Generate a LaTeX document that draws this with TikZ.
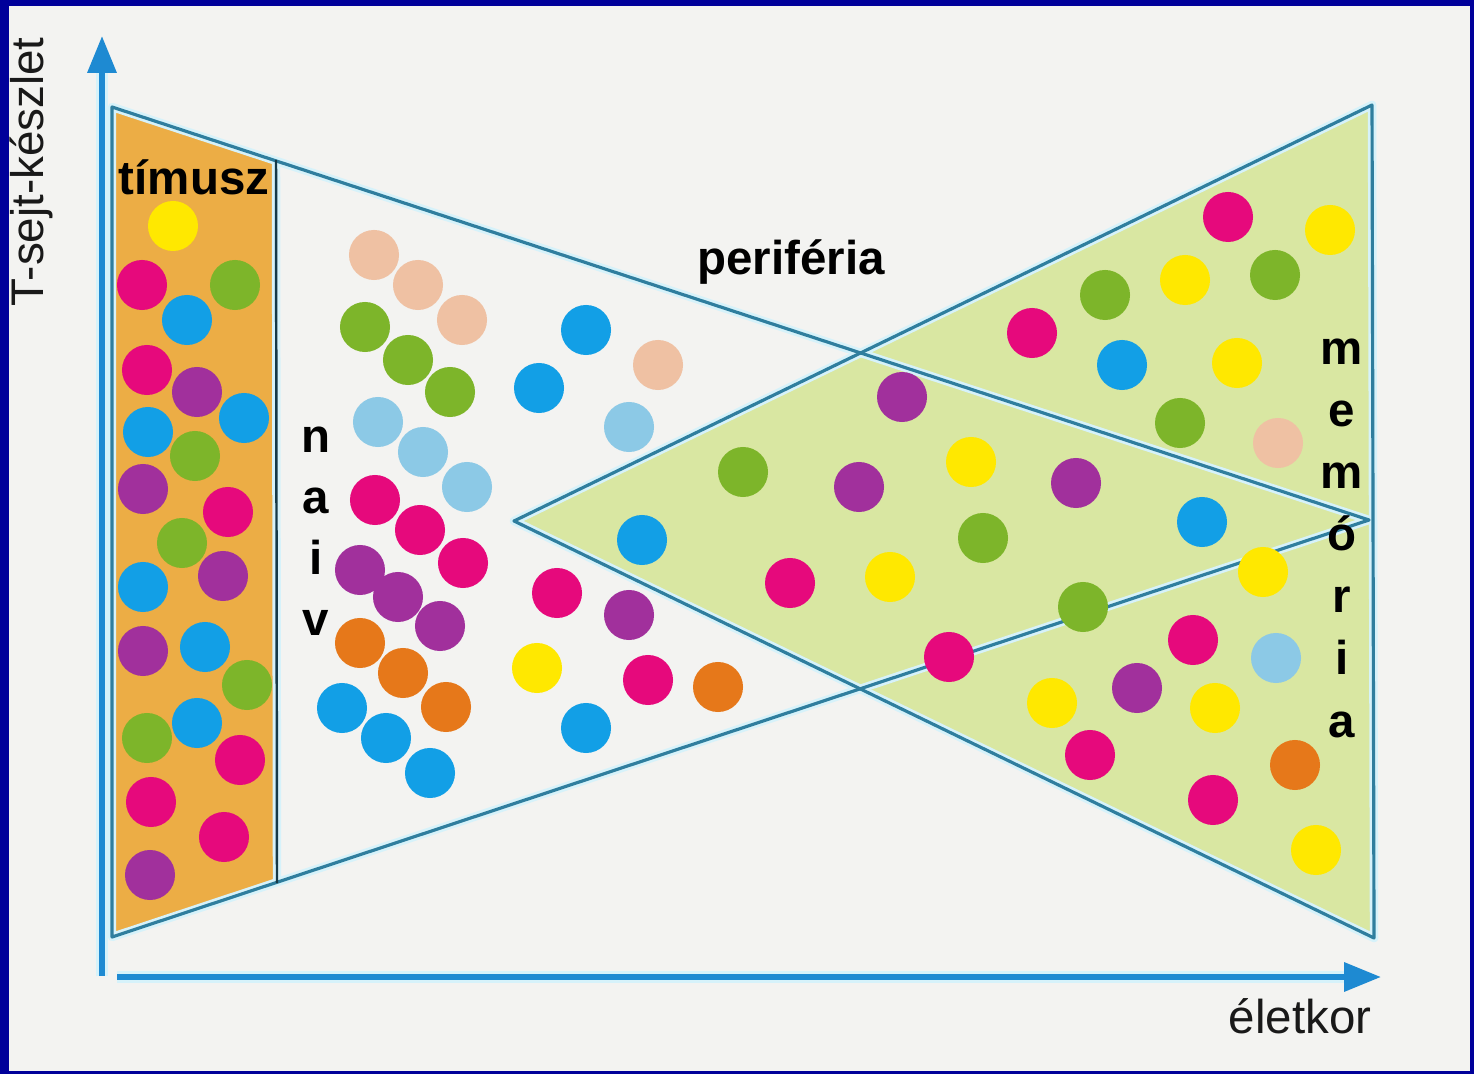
\documentclass[tikz,border=0pt]{standalone}
\usepackage{fontspec}
\setmainfont{Liberation Sans}
\usetikzlibrary{arrows.meta}
\definecolor{frameblue}{HTML}{00009A}
\definecolor{paper}{HTML}{F3F3F1}
\definecolor{axisblue}{HTML}{1E8AD2}
\definecolor{halo}{HTML}{D6F2FA}
\definecolor{linec}{HTML}{2F7E9E}
\definecolor{thy}{HTML}{ECAD45}
\definecolor{mem}{HTML}{D9E7A2}
\definecolor{cyel}{HTML}{FFE800}
\definecolor{cmag}{HTML}{E6097C}
\definecolor{cgrn}{HTML}{7DB52A}
\definecolor{cblu}{HTML}{129FE6}
\definecolor{cpur}{HTML}{A1309C}
\definecolor{cpea}{HTML}{EFC1A3}
\definecolor{clbl}{HTML}{8CC9E6}
\definecolor{cora}{HTML}{E6781A}
\tikzset{
  haloline/.style={draw=halo, line width=2.4pt, line join=round},
  thinline/.style={draw=linec, line width=0.9pt, line join=round},
  thyedge/.style={draw=black!55!linec, line width=0.7pt},
  axisline/.style={draw=axisblue, line width=1.7pt, -{Triangle[length=10.5pt,width=8pt]}},
  axishalo/.style={draw=halo, line width=3.2pt},
  lbl/.style={inner sep=0pt, anchor=base, font=\fontsize{13.5pt}{15pt}\selectfont\bfseries, text=black},
  axlbl/.style={inner sep=0pt, anchor=base, font=\fontsize{13pt}{15pt}\selectfont, text=black!90},
  dotr/.style={radius=2.5mm}
}
\begin{document}
\begin{tikzpicture}[x=0.01cm,y=-0.01cm]
\useasboundingbox (0,0) rectangle (1474,1074);
% frame and paper
\fill[frameblue] (0,0) rectangle (1474,1074);
\fill[paper] (9,6) rectangle (1470,1071);
% regions
\fill[thy] (112,107) -- (276,160) -- (277,883) -- (112,937) -- cycle;
\fill[mem] (514,521) -- (1372,105) -- (1374,938) -- cycle;
% halos
\path[haloline] (112,107) -- (1369,520) -- (112,937) -- cycle;
\path[haloline] (514,521) -- (1372,105) -- (1374,938) -- cycle;
\path[haloline] (276,160) -- (277,883);
% lines
\path[thinline] (112,107) -- (1369,520) -- (112,937) -- cycle;
\path[thinline] (514,521) -- (1372,105) -- (1374,938) -- cycle;
\path[thyedge] (276,160) -- (277,883);
% axes
\coordinate (o1) at (102,976);
\coordinate (ytip) at (102,36);
\coordinate (o2) at (117,977);
\coordinate (xtip) at (1381,977);
\draw[axishalo] (o1) -- (102,70);
\draw[axishalo] (o2) -- (1345,977);
\draw[axisline] (o1) -- (ytip);
\draw[axisline] (o2) -- (xtip);
% dots
\foreach \p in {(173,226),(1330,230),(1185,280),(1237,363),(971,462),(890,577),(1263,572),(1052,703),(1215,708),(1316,850),(537,668)}
  \fill[cyel] \p circle[dotr];
\foreach \p in {(142,285),(147,370),(228,512),(240,760),(151,802),(224,837),
  (375,500),(420,530),(463,563),(557,593),(648,680),
  (1228,217),(1032,333),(790,583),(949,657),(1193,640),(1090,755),(1213,800)}
  \fill[cmag] \p circle[dotr];
\foreach \p in {(235,285),(195,456),(182,543),(247,685),(147,738),
  (365,327),(408,360),(450,392),
  (1105,295),(1275,275),(1180,423),(743,472),(983,538),(1083,607)}
  \fill[cgrn] \p circle[dotr];
\foreach \p in {(187,320),(244,418),(148,432),(143,587),(205,647),(197,723),
  (342,708),(386,738),(430,773),(586,330),(539,388),(642,540),(586,728),
  (1122,365),(1202,522)}
  \fill[cblu] \p circle[dotr];
\foreach \p in {(197,392),(143,489),(223,576),(143,651),(150,875),
  (360,570),(398,597),(440,626),(629,615),
  (902,397),(859,487),(1076,483),(1137,688)}
  \fill[cpur] \p circle[dotr];
\foreach \p in {(374,255),(418,285),(462,320),(658,365),(1278,443)}
  \fill[cpea] \p circle[dotr];
\foreach \p in {(378,422),(423,452),(467,487),(629,427),(1276,658)}
  \fill[clbl] \p circle[dotr];
\foreach \p in {(360,643),(403,673),(446,707),(718,687),(1295,765)}
  \fill[cora] \p circle[dotr];
% labels
\node[axlbl, rotate=90] (ylabel) at (43,172) {T-sejt-készlet};
\node[axlbl, font=\fontsize{13.5pt}{15pt}\selectfont] (xlabel) at (1300,1033) {életkor};
\node[lbl] (tim) at (194,195) {tímusz};
\node[lbl] (per) at (791,275) {periféria};
\node[lbl] (n1) at (316,453) {n};
\node[lbl] (n2) at (316,514) {a};
\node[lbl] (n3) at (316,575) {i};
\node[lbl] (n4) at (316,636) {v};
\node[lbl] (m1) at (1342,365) {m};
\node[lbl] (m2) at (1342,427) {e};
\node[lbl] (m3) at (1342,489) {m};
\node[lbl] (m4) at (1342,551) {ó};
\node[lbl] (m5) at (1342,613) {r};
\node[lbl] (m6) at (1342,675) {i};
\node[lbl] (m7) at (1342,737) {a};
\end{tikzpicture}
\end{document}
